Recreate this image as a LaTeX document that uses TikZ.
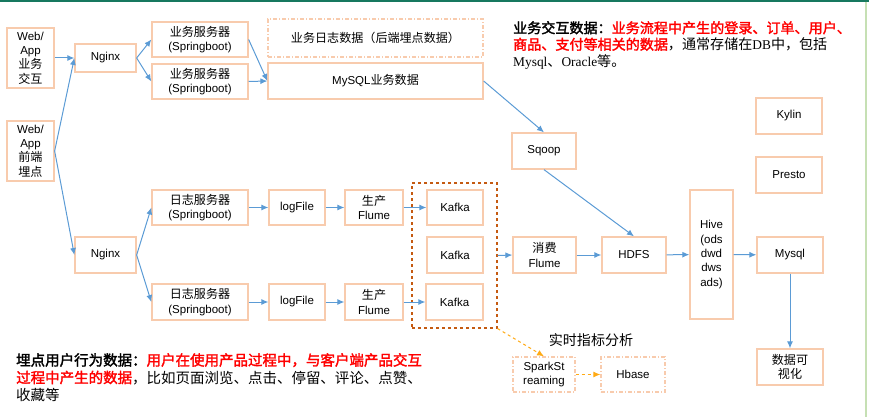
\documentclass[tikz,border=0pt]{standalone}
\usepackage{fontspec}
\setmainfont{Liberation Sans}
\newfontfamily\cjk[Scale=1.05]{Noto Sans CJK SC}
\newfontfamily\cjkbf[Scale=1.05,FakeBold=2]{Noto Sans CJK SC}
\newfontfamily\tms{Liberation Serif}
\usepackage{tikz}
\usetikzlibrary{arrows.meta,positioning}

\definecolor{boxline}{RGB}{248,203,173}
\definecolor{flow}{RGB}{91,155,213}
\definecolor{grpline}{RGB}{197,90,17}
\definecolor{rtline}{RGB}{255,170,20}
\definecolor{hilite}{RGB}{255,0,0}
\definecolor{topbar}{RGB}{23,120,95}
\definecolor{sidebar}{RGB}{198,224,180}

\begin{document}
\begin{tikzpicture}[
  x=1pt, y=-1pt,
  every node/.style={font=\fontsize{11.5}{14.4}\selectfont},
  box/.style args={#1x#2}{draw=boxline, line width=1.3pt, minimum width=#1pt,
              minimum height=#2pt, inner sep=1pt, align=center},
  dbox/.style={box=#1, dash pattern=on 4pt off 2pt on 1pt off 2pt},
  arr/.style={-{Latex[length=7pt,width=6pt]}, flow, line width=1pt},
  rtarr/.style={-{Latex[length=7pt,width=6pt]}, rtline, dashed, line width=1pt},
  note/.style={anchor=north west, inner sep=0pt, align=left},
]
\useasboundingbox (0,0) rectangle (869,417);
\fill[topbar] (0,0) rectangle (869,1.6);
\draw[sidebar, line width=1.2pt] (866,1.6) -- (866,417);

%% ── Sources and web servers ─────────────────────────────────────────────
\node[box=47x60]  (web1) at (30.5, 58)  {Web/\\App\\{\cjk 业务}\\{\cjk 交互}};
\node[box=47x60]  (web2) at (30.5, 151) {Web/\\App\\{\cjk 前端}\\{\cjk 埋点}};
\node[box=61x28]  (ngx1) at (105.5, 58) {Nginx};
\node[box=61x36]  (ngx2) at (105.5, 255) {Nginx};

\node[box=96x35]  (srv1)  at (200, 39.5)  {{\cjk 业务服务器}\\(Springboot)};
\node[box=96x35]  (srv2)  at (200, 81.5)  {{\cjk 业务服务器}\\(Springboot)};
\node[box=96x35]  (lsrv1) at (200, 207.5) {{\cjk 日志服务器}\\(Springboot)};
\node[box=96x36]  (lsrv2) at (200, 302)   {{\cjk 日志服务器}\\(Springboot)};

%% ── Business data path ──────────────────────────────────────────────────
\node[dbox=215x38] (blog)  at (375.5, 38) {{\cjk 业务日志数据（后端埋点数据）}};
\node[box=215x36]  (bizdb) at (375.5, 81) {MySQL{\cjk 业务数据}};
\node[box=64x36]   (sqoop) at (544, 151)  {Sqoop};

%% ── Log data path ───────────────────────────────────────────────────────
\node[box=56x35] (lf1) at (297, 207.5) {logFile};
\node[box=56x36] (lf2) at (297, 302)   {logFile};
\node[box=58x35] (pf1) at (374, 207.5) {{\cjk 生产}\\Flume};
\node[box=58x36] (pf2) at (374, 302)   {{\cjk 生产}\\Flume};

\node[draw=grpline, dashed, line width=1.1pt, minimum width=85pt,
      minimum height=145pt] (kgrp) at (454.5, 255.5) {};
\node[box=56x35] (k1) at (455, 207.5) {Kafka};
\node[box=56x36] (k2) at (455, 255)   {Kafka};
\node[box=57x36] (k3) at (454.5, 302) {Kafka};

\node[box=63x36]  (cflume) at (544.5, 255) {{\cjk 消费}\\Flume};
\node[box=64x36]  (hdfs)   at (634, 255)   {HDFS};
\node[box=43x129] (hive)   at (711.5, 254.5) {Hive\\(ods\\dwd\\dws\\ads)};
\node[box=66x36]  (mysql)  at (790, 255)   {Mysql};
\node[box=66x36]  (viz)    at (790, 367)   {{\cjk 数据可}\\{\cjk 视化}};
\node[box=66x36]  (kylin)  at (789, 116)   {Kylin};
\node[box=66x36]  (presto) at (789, 175)   {Presto};

%% ── Real-time branch ────────────────────────────────────────────────────
\node[font=\fontsize{13.4}{16}\selectfont\cjk] (rtlabel) at (591, 340) {实时指标分析};
\node[dbox=62x35] (spark) at (544, 374.5) {SparkSt\\reaming};
\node[dbox=64x35] (hbase) at (633, 374.5) {Hbase};

%% ── Connectors ──────────────────────────────────────────────────────────
\draw[arr] (web1.east) -- (ngx1.west);
\draw[arr] (web2.east) -- (ngx1.west);
\draw[arr] (web2.east) -- (ngx2.west);
\draw[arr] (ngx1.east) -- (srv1.west);
\draw[arr] (ngx1.east) -- (srv2.west);
\draw[arr] (srv1.east) -- (bizdb.west);
\draw[arr] (srv2.east) -- (bizdb.west);
\draw[arr] (bizdb.east) -- (sqoop.north);
\draw[arr] (sqoop.south) -- (hdfs.north);

\draw[arr] (ngx2.east) -- (lsrv1.west);
\draw[arr] (ngx2.east) -- (lsrv2.west);
\draw[arr] (lsrv1) -- (lf1);
\draw[arr] (lf1) -- (pf1);
\draw[arr] (pf1) -- (k1);
\draw[arr] (lsrv2) -- (lf2);
\draw[arr] (lf2) -- (pf2);
\draw[arr] (pf2) -- (k3);

\draw[arr] (kgrp.east) -- (cflume.west);
\draw[arr] (cflume) -- (hdfs);
\draw[arr] (hdfs) -- (hive);
\draw[arr] (hive) -- (mysql);
\draw[arr] (mysql) -- (viz);

\draw[rtarr] (kgrp.south east) -- (spark.north);
\draw[rtarr] (spark) -- (hbase);

%% ── Notes ───────────────────────────────────────────────────────────────
\node[note, font=\fontsize{13.4}{16.5}\selectfont] (biznote) at (513, 21)
    {{\cjkbf 业务交互数据：}{\cjkbf\color{hilite}业务流程中产生的登录、订单、用户、}\\
     {\cjkbf\color{hilite}商品、支付等相关的数据}{\cjk ，通常存储在}{\tms DB}{\cjk 中，包括}\\
     {\tms Mysql}{\cjk 、}{\tms Oracle}{\cjk 等。}};
\node[note, font=\fontsize{13.8}{17.5}\selectfont] (lognote) at (16, 353)
    {{\cjkbf 埋点用户行为数据：}{\cjkbf\color{hilite}用户在使用产品过程中，与客户端产品交互}\\
     {\cjkbf\color{hilite}过程中产生的数据}{\cjk ，比如页面浏览、点击、停留、评论、点赞、}\\
     {\cjk 收藏等}};
\end{tikzpicture}
\end{document}
